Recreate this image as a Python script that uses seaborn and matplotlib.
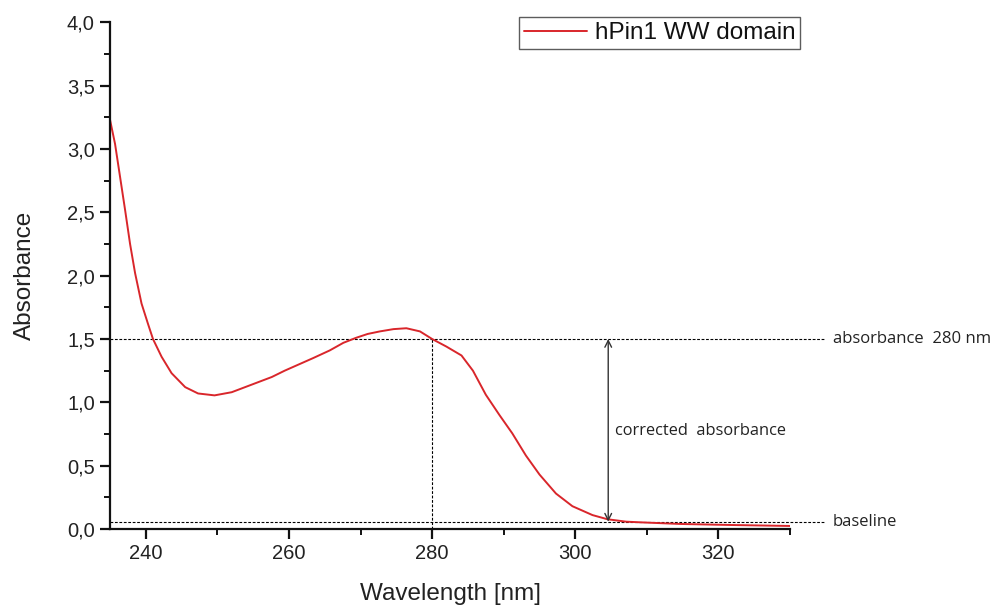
import matplotlib
matplotlib.use("Agg")
import matplotlib.pyplot as plt
from matplotlib.ticker import FixedLocator, FixedFormatter, MultipleLocator
import seaborn as sns
import pandas as pd

# UV absorbance spectrum of the hPin1 WW domain
wavelength = [235.0, 235.7, 236.4, 237.1, 237.8, 238.5, 239.4, 240.3, 241.0,
              242.2, 243.6, 245.5, 247.3, 249.6, 252.0, 254.8, 257.6, 259.4,
              261.0, 263.4, 265.7, 267.6, 269.4, 271.0, 272.7, 274.6, 276.4,
              278.3, 280.0, 282.0, 284.1, 285.7, 287.5, 289.4, 291.2, 293.1,
              295.0, 297.3, 299.6, 302.4, 304.5, 307.1, 309.0, 314.6, 321.5,
              330.0]
absorbance = [3.23, 3.04, 2.78, 2.52, 2.25, 2.02, 1.78, 1.62, 1.50,
              1.36, 1.23, 1.12, 1.07, 1.055, 1.08, 1.14, 1.20, 1.25,
              1.29, 1.35, 1.41, 1.47, 1.51, 1.54, 1.56, 1.578, 1.585,
              1.56, 1.50, 1.44, 1.37, 1.25, 1.06, 0.90, 0.755, 0.58,
              0.43, 0.28, 0.18, 0.11, 0.077, 0.058, 0.053, 0.040, 0.032,
              0.024]
series_name = "hPin1 WW domain"

x_ticks = [240, 260, 280, 300, 320]
x_tick_labels = ["240", "260", "280", "300", "320"]
y_ticks = [0.0, 0.5, 1.0, 1.5, 2.0, 2.5, 3.0, 3.5, 4.0]
y_tick_labels = ["0,0", "0,5", "1,0", "1,5", "2,0", "2,5", "3,0", "3,5", "4,0"]

abs_280 = 1.5
baseline = 0.058
ref_wavelength = 280
arrow_wavelength = 304.6

sns.set_theme(style="white")
plt.rcParams["font.family"] = ["Liberation Sans", "DejaVu Sans"]

fig = plt.figure(figsize=(9.94, 6.05), dpi=100)
ax = fig.add_axes([0.1107, 0.1256, 0.6841, 0.8375])

df = pd.DataFrame({"Wavelength": wavelength, "Absorbance": absorbance,
                   "Sample": series_name})
sns.lineplot(data=df, x="Wavelength", y="Absorbance", hue="Sample",
             palette=["#d9262b"], linewidth=1.4, ax=ax)

ax.set_xlim(235, 330)
ax.set_ylim(0, 4.0)

for side in ("top", "right"):
    ax.spines[side].set_visible(False)
for side in ("left", "bottom"):
    ax.spines[side].set_linewidth(1.6)
    ax.spines[side].set_color("#111111")

ax.xaxis.set_major_locator(FixedLocator(x_ticks))
ax.xaxis.set_major_formatter(FixedFormatter(x_tick_labels))
ax.yaxis.set_major_locator(FixedLocator(y_ticks))
ax.yaxis.set_major_formatter(FixedFormatter(y_tick_labels))
ax.xaxis.set_minor_locator(MultipleLocator(10))
ax.yaxis.set_minor_locator(MultipleLocator(0.25))
ax.tick_params(which="major", direction="out", length=7, width=1.6,
               color="#111111", labelsize=14.5, labelcolor="#222222",
               left=True, bottom=True, pad=4)
ax.tick_params(which="minor", direction="out", length=4.5, width=1.4,
               color="#111111", left=True, bottom=True)

ax.set_xlabel("Wavelength [nm]", fontsize=17.5, color="#222222", labelpad=14)
ax.set_ylabel("Absorbance", fontsize=17.5, color="#222222", labelpad=22)

# Guide lines for reading off the corrected absorbance
line_end = 334.7
dash = dict(color="black", linestyle=(0, (2.5, 1.5)), linewidth=0.8,
            clip_on=False, zorder=1)
ax.plot([235, line_end], [abs_280, abs_280], **dash)
ax.plot([235, line_end], [baseline, baseline], **dash)
ax.plot([ref_wavelength, ref_wavelength], [0, abs_280], **dash)

ax.annotate("", xy=(arrow_wavelength, abs_280), xytext=(arrow_wavelength, baseline),
            arrowprops=dict(arrowstyle="<->", color="#333333", lw=1.0,
                            shrinkA=0, shrinkB=0, mutation_scale=12))

note_font = ["Open Sans", "DejaVu Sans"]
ax.text(336.0, abs_280, "absorbance  280 nm", fontsize=12, family=note_font,
        va="center", ha="left", color="#222222", clip_on=False)
ax.text(336.0, baseline, "baseline", fontsize=12, family=note_font,
        va="center", ha="left", color="#222222", clip_on=False)
ax.text(305.6, 0.77, "corrected  absorbance", fontsize=11.8, family=note_font,
        va="center", ha="left", color="#222222")

leg = ax.legend(loc="upper right", bbox_to_anchor=(1.015, 1.01), fontsize=17.5,
                frameon=True, fancybox=False, handlelength=2.6,
                borderpad=0.2, handletextpad=0.3, borderaxespad=0.0)
leg.get_frame().set_edgecolor("#333333")
leg.get_frame().set_linewidth(1.0)
for t in leg.get_texts():
    t.set_color("#111111")

fig.savefig("out.png", dpi=100, facecolor="white")
